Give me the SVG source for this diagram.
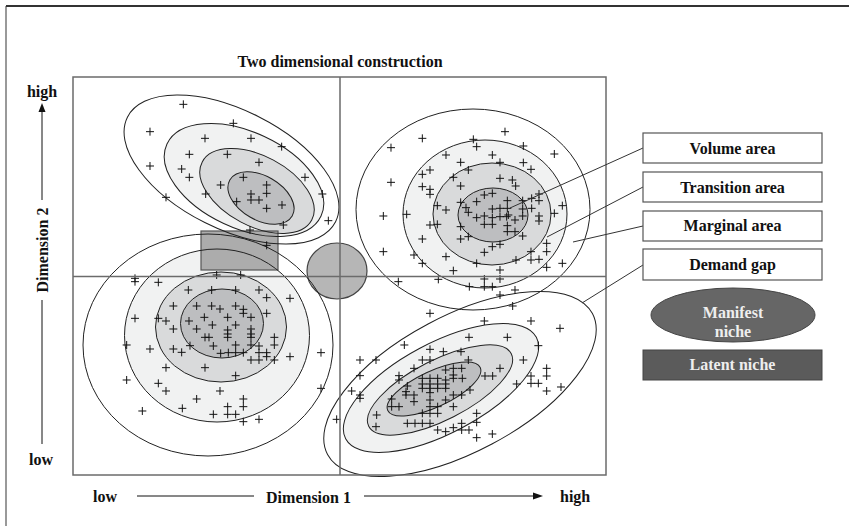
<svg xmlns="http://www.w3.org/2000/svg" xmlns:xlink="http://www.w3.org/1999/xlink" width="849" height="526" viewBox="0 0 849 526">
  <style>
    text { font-family: "Liberation Serif", "Times New Roman", serif; font-weight: bold; font-size: 16px; fill: #111; }
    .mid { text-anchor: middle; }
    .l1 { fill: #f1f2f2; }
    .l2 { fill: #d9dadb; }
    .l3 { fill: #bdbec0; }
    .ring { fill: none; stroke: #222; stroke-width: 1; }
    .grid { fill: none; stroke: #6b6b6b; stroke-width: 1.5; }
    .lead { stroke: #333; stroke-width: 1; fill: none; }
    .box { fill: #fff; stroke: #555; stroke-width: 1.2; }
    .pts { stroke: #111; stroke-width: 3; fill: none; }
    .light { fill: #eeeeee; }
  </style>
  <defs>
    <!-- density contours, one set per cluster -->
    <ellipse id="tl1" cx="231.5" cy="169.5" rx="116.5" ry="59.4" transform="rotate(26.7 231.5 169.5)"/>
    <ellipse id="tl2" cx="244" cy="180" rx="85" ry="48" transform="rotate(25 244 180)"/>
    <ellipse id="tl3" cx="257" cy="191" rx="62" ry="35" transform="rotate(28 257 191)"/>
    <ellipse id="tl4" cx="261" cy="198" rx="36" ry="22" transform="rotate(30 261 198)"/>

    <ellipse id="tr1" cx="473" cy="209.5" rx="117" ry="100.5"/>
    <ellipse id="tr2" cx="485" cy="214" rx="82" ry="74"/>
    <ellipse id="tr3" cx="492" cy="214" rx="59" ry="51"/>
    <ellipse id="tr4" cx="493" cy="215" rx="35" ry="27"/>

    <ellipse id="bl1" cx="208" cy="345" rx="125" ry="111"/>
    <ellipse id="bl2" cx="217" cy="335.5" rx="92.5" ry="86.5"/>
    <ellipse id="bl3" cx="221" cy="327" rx="65.5" ry="55"/>
    <ellipse id="bl4" cx="222" cy="323.5" rx="41.5" ry="34.5"/>

    <ellipse id="br1" cx="460" cy="384" rx="150" ry="68" transform="rotate(-28 460 384)"/>
    <ellipse id="br2" cx="441" cy="388" rx="108" ry="45" transform="rotate(-28 441 388)"/>
    <ellipse id="br3" cx="440" cy="390" rx="80" ry="30" transform="rotate(-27 440 390)"/>
    <ellipse id="br4" cx="434" cy="389" rx="51" ry="18" transform="rotate(-25 434 389)"/>

    <!-- observation mark, drawn in 1/3-scale local units -->
    <path id="c" d="M-12 0H12M0-12V12"/>
  </defs>

  <!-- outer frame -->
  <path d="M6 526V6" fill="none" stroke="#777" stroke-width="1.5"/>
  <path d="M6 6H849" fill="none" stroke="#333" stroke-width="2"/>

  <text class="mid" x="340" y="67">Two dimensional construction</text>

  <!-- axes -->
  <g id="axis-y">
    <text class="mid" x="42" y="97">high</text>
    <path d="M42 103L38.5 112H45.5Z" fill="#111"/>
    <path d="M42 111V200M42 300V444" stroke="#111" stroke-width="1"/>
    <text class="mid" transform="translate(47.5 250) rotate(-90)">Dimension 2</text>
    <text class="mid" x="41" y="465">low</text>
  </g>
  <g id="axis-x">
    <text class="mid" x="105" y="502">low</text>
    <path d="M137 496H254M364 496H534" stroke="#111" stroke-width="1"/>
    <path d="M543 496L533 492.5V499.5Z" fill="#111"/>
    <text class="mid" x="308.5" y="503">Dimension 1</text>
    <text x="560" y="502">high</text>
  </g>

  <!-- contour fills -->
  <g id="fills">
    <use href="#tl2" class="l1"/><use href="#tl3" class="l2"/><use href="#tl4" class="l3"/>
    <use href="#tr2" class="l1"/><use href="#tr3" class="l2"/><use href="#tr4" class="l3"/>
    <use href="#bl2" class="l1"/><use href="#bl3" class="l2"/><use href="#bl4" class="l3"/>
    <use href="#br2" class="l1"/><use href="#br3" class="l2"/><use href="#br4" class="l3"/>
  </g>

  <!-- niches inside the plane -->
  <g id="latent-niche-area">
    <rect x="201" y="231" width="77" height="39" fill="#acacac" stroke="#555" stroke-width="1.2"/>
  </g>
  <g id="manifest-niche-area">
    <ellipse cx="337" cy="271" rx="30" ry="28" fill="#b6b6b6" stroke="#444" stroke-width="1.2"/>
  </g>

  <!-- contour outlines -->
  <g id="rings" class="ring">
    <use href="#tl1"/><use href="#tl2"/><use href="#tl3"/><use href="#tl4"/>
    <use href="#tr1"/><use href="#tr2"/><use href="#tr3"/><use href="#tr4"/>
    <use href="#bl1"/><use href="#bl2"/><use href="#bl3"/><use href="#bl4"/>
    <use href="#br1"/><use href="#br2"/><use href="#br3"/><use href="#br4"/>
  </g>

  <!-- observations -->
  <g id="cluster-top-left" class="pts" transform="translate(70 60) scale(0.33333)">
    <use href="#c" x="340" y="133"/><use href="#c" x="240" y="215"/><use href="#c" x="490" y="190"/>
    <use href="#c" x="405" y="235"/><use href="#c" x="543" y="235"/><use href="#c" x="635" y="260"/>
    <use href="#c" x="358" y="283"/><use href="#c" x="472" y="283"/><use href="#c" x="567" y="307"/>
    <use href="#c" x="240" y="318"/><use href="#c" x="335" y="327"/><use href="#c" x="358" y="352"/>
    <use href="#c" x="520" y="352"/><use href="#c" x="452" y="375"/><use href="#c" x="590" y="375"/>
    <use href="#c" x="705" y="352"/><use href="#c" x="407" y="402"/><use href="#c" x="288" y="412"/>
    <use href="#c" x="543" y="402"/><use href="#c" x="590" y="400"/><use href="#c" x="757" y="402"/>
    <use href="#c" x="500" y="425"/><use href="#c" x="543" y="420"/><use href="#c" x="567" y="420"/>
    <use href="#c" x="590" y="445"/><use href="#c" x="636" y="435"/><use href="#c" x="775" y="482"/>
    <use href="#c" x="640" y="495"/><use href="#c" x="540" y="510"/><use href="#c" x="590" y="556"/>
  </g>

  <g id="cluster-top-right" class="pts" transform="translate(340 80) scale(0.33333)">
    <use href="#c" x="495" y="155"/><use href="#c" x="247" y="175"/><use href="#c" x="400" y="178"/>
    <use href="#c" x="153" y="203"/><use href="#c" x="410" y="200"/><use href="#c" x="550" y="198"/>
    <use href="#c" x="643" y="222"/><use href="#c" x="318" y="225"/><use href="#c" x="457" y="225"/>
    <use href="#c" x="362" y="247"/><use href="#c" x="480" y="247"/><use href="#c" x="550" y="248"/>
    <use href="#c" x="270" y="270"/><use href="#c" x="247" y="283"/><use href="#c" x="385" y="270"/>
    <use href="#c" x="573" y="268"/><use href="#c" x="340" y="292"/><use href="#c" x="480" y="295"/>
    <use href="#c" x="517" y="300"/><use href="#c" x="527" y="318"/><use href="#c" x="153" y="307"/>
    <use href="#c" x="247" y="320"/><use href="#c" x="270" y="328"/><use href="#c" x="270" y="343"/>
    <use href="#c" x="362" y="318"/><use href="#c" x="433" y="345"/><use href="#c" x="457" y="340"/>
    <use href="#c" x="410" y="365"/><use href="#c" x="502" y="362"/><use href="#c" x="548" y="362"/>
    <use href="#c" x="597" y="342"/><use href="#c" x="575" y="355"/><use href="#c" x="597" y="362"/>
    <use href="#c" x="292" y="377"/><use href="#c" x="318" y="390"/><use href="#c" x="378" y="383"/>
    <use href="#c" x="385" y="397"/><use href="#c" x="362" y="367"/><use href="#c" x="457" y="387"/>
    <use href="#c" x="480" y="385"/><use href="#c" x="502" y="385"/><use href="#c" x="505" y="405"/>
    <use href="#c" x="548" y="387"/><use href="#c" x="575" y="385"/><use href="#c" x="667" y="377"/>
    <use href="#c" x="643" y="400"/><use href="#c" x="130" y="408"/><use href="#c" x="200" y="403"/>
    <use href="#c" x="410" y="413"/><use href="#c" x="433" y="408"/><use href="#c" x="457" y="413"/>
    <use href="#c" x="480" y="410"/><use href="#c" x="500" y="410"/><use href="#c" x="525" y="420"/>
    <use href="#c" x="548" y="408"/><use href="#c" x="597" y="408"/><use href="#c" x="597" y="423"/>
    <use href="#c" x="270" y="435"/><use href="#c" x="292" y="433"/><use href="#c" x="362" y="440"/>
    <use href="#c" x="433" y="433"/><use href="#c" x="457" y="433"/><use href="#c" x="502" y="437"/>
    <use href="#c" x="502" y="455"/><use href="#c" x="525" y="455"/><use href="#c" x="548" y="468"/>
    <use href="#c" x="362" y="477"/><use href="#c" x="385" y="470"/><use href="#c" x="247" y="477"/>
    <use href="#c" x="457" y="500"/><use href="#c" x="480" y="493"/><use href="#c" x="433" y="517"/>
    <use href="#c" x="620" y="490"/><use href="#c" x="620" y="515"/><use href="#c" x="573" y="515"/>
    <use href="#c" x="130" y="515"/><use href="#c" x="222" y="525"/><use href="#c" x="247" y="550"/>
    <use href="#c" x="318" y="530"/><use href="#c" x="410" y="550"/><use href="#c" x="528" y="540"/>
    <use href="#c" x="573" y="540"/><use href="#c" x="597" y="538"/><use href="#c" x="620" y="562"/>
    <use href="#c" x="667" y="550"/><use href="#c" x="340" y="572"/><use href="#c" x="480" y="570"/>
    <use href="#c" x="480" y="597"/><use href="#c" x="433" y="597"/><use href="#c" x="433" y="620"/>
    <use href="#c" x="457" y="620"/><use href="#c" x="388" y="620"/><use href="#c" x="175" y="605"/>
    <use href="#c" x="295" y="598"/><use href="#c" x="525" y="630"/><use href="#c" x="480" y="645"/>
    <use href="#c" x="518" y="678"/>
  </g>

  <g id="cluster-bottom-left" class="pts" transform="translate(70 220) scale(0.33333)">
    <use href="#c" x="195" y="175"/><use href="#c" x="195" y="185"/><use href="#c" x="265" y="187"/>
    <use href="#c" x="440" y="165"/><use href="#c" x="512" y="165"/><use href="#c" x="355" y="210"/>
    <use href="#c" x="425" y="210"/><use href="#c" x="497" y="210"/><use href="#c" x="567" y="210"/>
    <use href="#c" x="590" y="233"/><use href="#c" x="660" y="235"/><use href="#c" x="310" y="258"/>
    <use href="#c" x="380" y="258"/><use href="#c" x="425" y="258"/><use href="#c" x="450" y="267"/>
    <use href="#c" x="497" y="258"/><use href="#c" x="520" y="268"/><use href="#c" x="520" y="280"/>
    <use href="#c" x="543" y="292"/><use href="#c" x="590" y="280"/><use href="#c" x="195" y="295"/>
    <use href="#c" x="265" y="295"/><use href="#c" x="288" y="303"/><use href="#c" x="357" y="303"/>
    <use href="#c" x="403" y="292"/><use href="#c" x="473" y="292"/><use href="#c" x="310" y="327"/>
    <use href="#c" x="380" y="327"/><use href="#c" x="427" y="315"/><use href="#c" x="473" y="330"/>
    <use href="#c" x="497" y="315"/><use href="#c" x="473" y="342"/><use href="#c" x="543" y="327"/>
    <use href="#c" x="543" y="342"/><use href="#c" x="405" y="352"/><use href="#c" x="417" y="352"/>
    <use href="#c" x="473" y="352"/><use href="#c" x="543" y="352"/><use href="#c" x="613" y="352"/>
    <use href="#c" x="170" y="375"/><use href="#c" x="240" y="387"/><use href="#c" x="310" y="387"/>
    <use href="#c" x="335" y="397"/><use href="#c" x="360" y="377"/><use href="#c" x="430" y="378"/>
    <use href="#c" x="497" y="375"/><use href="#c" x="452" y="400"/><use href="#c" x="475" y="398"/>
    <use href="#c" x="497" y="398"/><use href="#c" x="520" y="398"/><use href="#c" x="543" y="375"/>
    <use href="#c" x="567" y="378"/><use href="#c" x="567" y="398"/><use href="#c" x="590" y="398"/>
    <use href="#c" x="613" y="375"/><use href="#c" x="543" y="420"/><use href="#c" x="567" y="420"/>
    <use href="#c" x="590" y="410"/><use href="#c" x="613" y="420"/><use href="#c" x="660" y="410"/>
    <use href="#c" x="753" y="398"/><use href="#c" x="288" y="443"/><use href="#c" x="405" y="443"/>
    <use href="#c" x="497" y="467"/><use href="#c" x="170" y="480"/><use href="#c" x="265" y="490"/>
    <use href="#c" x="288" y="513"/><use href="#c" x="450" y="513"/><use href="#c" x="380" y="537"/>
    <use href="#c" x="520" y="537"/><use href="#c" x="337" y="565"/><use href="#c" x="473" y="560"/>
    <use href="#c" x="520" y="560"/><use href="#c" x="217" y="573"/><use href="#c" x="430" y="583"/>
    <use href="#c" x="473" y="583"/><use href="#c" x="497" y="583"/><use href="#c" x="520" y="605"/>
    <use href="#c" x="567" y="598"/><use href="#c" x="753" y="505"/><use href="#c" x="800" y="598"/>
  </g>

  <g id="cluster-bottom-right" class="pts" transform="translate(300 260) scale(0.33333)">
    <use href="#c" x="390" y="160"/><use href="#c" x="553" y="183"/><use href="#c" x="693" y="183"/>
    <use href="#c" x="780" y="205"/><use href="#c" x="507" y="232"/><use href="#c" x="622" y="232"/>
    <use href="#c" x="715" y="257"/><use href="#c" x="313" y="255"/><use href="#c" x="390" y="268"/>
    <use href="#c" x="430" y="275"/><use href="#c" x="483" y="275"/><use href="#c" x="180" y="300"/>
    <use href="#c" x="228" y="300"/><use href="#c" x="367" y="300"/><use href="#c" x="390" y="300"/>
    <use href="#c" x="505" y="300"/><use href="#c" x="670" y="300"/><use href="#c" x="342" y="325"/>
    <use href="#c" x="437" y="330"/><use href="#c" x="460" y="325"/><use href="#c" x="485" y="325"/>
    <use href="#c" x="460" y="345"/><use href="#c" x="600" y="325"/><use href="#c" x="740" y="325"/>
    <use href="#c" x="180" y="347"/><use href="#c" x="297" y="347"/><use href="#c" x="297" y="360"/>
    <use href="#c" x="322" y="378"/><use href="#c" x="367" y="355"/><use href="#c" x="390" y="355"/>
    <use href="#c" x="413" y="355"/><use href="#c" x="437" y="360"/><use href="#c" x="460" y="355"/>
    <use href="#c" x="487" y="355"/><use href="#c" x="367" y="372"/><use href="#c" x="390" y="372"/>
    <use href="#c" x="413" y="372"/><use href="#c" x="437" y="372"/><use href="#c" x="367" y="385"/>
    <use href="#c" x="390" y="385"/><use href="#c" x="413" y="385"/><use href="#c" x="437" y="385"/>
    <use href="#c" x="318" y="395"/><use href="#c" x="342" y="405"/><use href="#c" x="390" y="398"/>
    <use href="#c" x="318" y="405"/><use href="#c" x="460" y="405"/><use href="#c" x="485" y="405"/>
    <use href="#c" x="510" y="390"/><use href="#c" x="555" y="348"/><use href="#c" x="578" y="348"/>
    <use href="#c" x="693" y="348"/><use href="#c" x="740" y="348"/><use href="#c" x="693" y="370"/>
    <use href="#c" x="715" y="370"/><use href="#c" x="650" y="372"/><use href="#c" x="740" y="393"/>
    <use href="#c" x="155" y="393"/><use href="#c" x="180" y="405"/><use href="#c" x="180" y="415"/>
    <use href="#c" x="275" y="417"/><use href="#c" x="342" y="425"/><use href="#c" x="297" y="440"/>
    <use href="#c" x="275" y="440"/><use href="#c" x="390" y="420"/><use href="#c" x="413" y="440"/>
    <use href="#c" x="437" y="420"/><use href="#c" x="460" y="440"/><use href="#c" x="390" y="440"/>
    <use href="#c" x="367" y="460"/><use href="#c" x="390" y="460"/><use href="#c" x="413" y="460"/>
    <use href="#c" x="230" y="465"/><use href="#c" x="530" y="460"/><use href="#c" x="322" y="490"/>
    <use href="#c" x="345" y="490"/><use href="#c" x="367" y="490"/><use href="#c" x="390" y="490"/>
    <use href="#c" x="485" y="490"/><use href="#c" x="530" y="487"/><use href="#c" x="228" y="500"/>
    <use href="#c" x="413" y="510"/><use href="#c" x="437" y="515"/><use href="#c" x="460" y="503"/>
    <use href="#c" x="485" y="510"/><use href="#c" x="507" y="510"/><use href="#c" x="530" y="533"/>
    <use href="#c" x="577" y="522"/><use href="#c" x="783" y="381"/>
  </g>

  <!-- plane and quadrant dividers -->
  <g id="plane" class="grid">
    <rect x="73" y="77" width="533" height="398"/>
    <path d="M340 77V475M73 276.5H606"/>
  </g>

  <!-- leader lines from legend labels into the top-right cluster -->
  <g id="connectors" class="lead">
    <path d="M643 148L510 208"/>
    <path d="M643 187L547 237"/>
    <path d="M643 226L573 242"/>
    <path d="M643 265L582 303"/>
  </g>

  <!-- legend -->
  <g id="volume-area">
    <rect class="box" x="643" y="133" width="179" height="30"/>
    <text class="mid" x="732.5" y="154">Volume area</text>
  </g>
  <g id="transition-area">
    <rect class="box" x="643" y="172" width="179" height="30"/>
    <text class="mid" x="732.5" y="193">Transition area</text>
  </g>
  <g id="marginal-area">
    <rect class="box" x="643" y="211" width="179" height="30"/>
    <text class="mid" x="732.5" y="231">Marginal area</text>
  </g>
  <g id="demand-gap">
    <rect class="box" x="643" y="249" width="179" height="31"/>
    <text class="mid" x="732.5" y="270">Demand gap</text>
  </g>
  <g id="manifest-niche">
    <ellipse cx="733" cy="315" rx="82" ry="27" fill="#666" stroke="#444" stroke-width="1"/>
    <text class="mid light" x="733" y="318">Manifest</text>
    <text class="mid light" x="733" y="337">niche</text>
  </g>
  <g id="latent-niche">
    <rect x="643" y="350" width="179" height="30" fill="#5b5b5b" stroke="#444" stroke-width="1"/>
    <text class="mid light" x="732.5" y="370">Latent niche</text>
  </g>
</svg>
